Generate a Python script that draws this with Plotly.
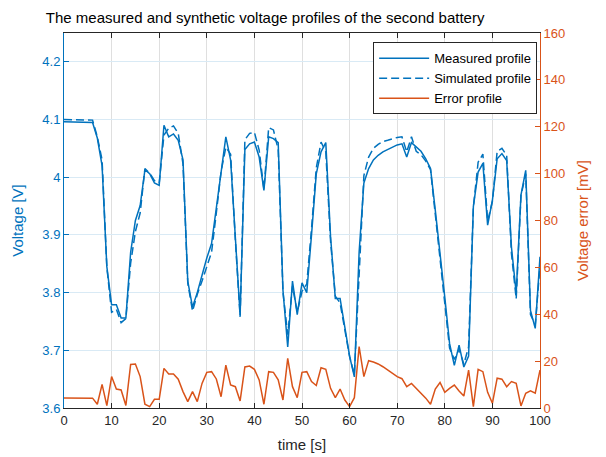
import plotly.graph_objects as go

# time axis, one sample per second
time_s = list(range(0, 101))

# measured terminal voltage [V]
measured_v = [
    4.096, 4.096, 4.095, 4.095, 4.095, 4.095, 4.095, 4.068, 4.020, 3.845,
    3.779, 3.779, 3.756, 3.756, 3.870, 3.925, 3.951, 4.013, 4.006, 3.990,
    3.986, 4.090, 4.070, 4.075, 4.064, 4.030, 3.820, 3.775, 3.800, 3.830,
    3.860, 3.885, 3.950, 4.015, 4.070, 4.030, 3.900, 3.761, 4.048, 4.058,
    4.061, 4.035, 3.977, 4.070, 4.067, 4.060, 3.804, 3.706, 3.820, 3.762,
    3.817, 3.800, 3.900, 4.006, 4.044, 4.060, 3.897, 3.790, 3.790, 3.740,
    3.690, 3.654, 3.870, 3.990, 4.015, 4.030, 4.038, 4.044, 4.048, 4.052,
    4.056, 4.058, 4.035, 4.060, 4.053, 4.045, 4.032, 4.015, 3.943, 3.873,
    3.792, 3.712, 3.674, 3.709, 3.671, 3.690, 3.949, 4.009, 4.024, 3.917,
    3.960, 4.032, 4.041, 4.029, 3.879, 3.799, 3.969, 4.012, 3.769, 3.738,
    3.862,
]

# simulated (synthetic) voltage [V]
simulated_v = [
    4.100, 4.100, 4.099, 4.099, 4.099, 4.099, 4.099, 4.070, 4.030, 3.844,
    3.766, 3.771, 3.748, 3.755, 3.851, 3.906, 3.938, 4.015, 4.007, 3.994,
    3.990, 4.073, 4.085, 4.089, 4.076, 4.023, 3.817, 3.768, 3.797, 3.820,
    3.845, 3.870, 3.938, 4.010, 4.052, 4.040, 3.891, 3.758, 4.065, 4.076,
    4.078, 4.047, 3.979, 4.086, 4.082, 4.048, 3.801, 3.727, 3.811, 3.766,
    3.802, 3.815, 3.911, 4.016, 4.061, 4.044, 3.889, 3.794, 3.782, 3.737,
    3.689, 3.658, 3.844, 4.003, 4.035, 4.050, 4.057, 4.062, 4.064, 4.067,
    4.069, 4.070, 4.044, 4.070, 4.045, 4.039, 4.028, 4.013, 3.935, 3.862,
    3.785, 3.704, 3.684, 3.702, 3.676, 3.706, 3.948, 4.026, 4.040, 3.924,
    3.958, 4.045, 4.050, 4.038, 3.868, 3.789, 3.968, 4.006, 3.762, 3.744,
    3.846,
]

# absolute error between the two profiles [mV]
error_mv = [
    4.3, 4.3, 4.2, 4.2, 4.3, 4.3, 4.2, 1.6, 10.1, 1.0,
    13.4, 8.1, 7.7, 1.1, 18.6, 18.8, 13.4, 1.6, 0.6, 3.7,
    3.7, 16.9, 14.5, 14.5, 12.3, 7.0, 2.7, 7.0, 2.7, 10.5,
    15.2, 15.5, 12.4, 4.8, 18.3, 9.8, 9.1, 3.0, 17.5, 17.9,
    16.5, 12.0, 1.6, 15.5, 15.2, 12.0, 3.4, 21.2, 9.1, 4.4,
    15.2, 15.5, 11.3, 9.6, 17.2, 16.5, 8.4, 4.4, 8.1, 3.4,
    0.6, 4.4, 26.2, 13.4, 20.2, 19.6, 18.8, 17.6, 16.3, 14.8,
    13.4, 12.5, 9.1, 10.5, 8.4, 6.3, 4.2, 1.6, 8.1, 10.9,
    6.7, 8.4, 9.8, 7.3, 5.1, 16.2, 0.6, 16.5, 15.5, 6.7,
    2.0, 12.7, 12.3, 9.1, 11.3, 10.5, 0.9, 6.3, 7.3, 6.3,
    16.2,
]

blue = "#0072BD"
orange = "#D95319"
dark = "#262626"
font = "Liberation Sans, Arial, sans-serif"

fig = go.Figure()
fig.add_trace(go.Scatter(x=time_s, y=measured_v, mode="lines",
                         name="Measured profile",
                         line=dict(color=blue, width=1.5)))
fig.add_trace(go.Scatter(x=time_s, y=simulated_v, mode="lines",
                         name="Simulated profile",
                         line=dict(color=blue, width=1.5, dash="8px,4px")))
fig.add_trace(go.Scatter(x=time_s, y=error_mv, mode="lines",
                         name="Error profile", yaxis="y2",
                         line=dict(color=orange, width=1.5)))

# the page body adds an 8 px margin, so the figure is 8 px smaller and the
# plot area lands at x 64..540, y 33..408 in the window
fig.update_layout(
    width=598, height=449,
    margin=dict(l=56, r=66, t=25, b=49, autoexpand=False),
    paper_bgcolor="white", plot_bgcolor="white",
    font=dict(family=font, size=13, color=dark),
    title=dict(text="The measured and synthetic voltage profiles of the second battery",
               x=0.43, xanchor="center", y=0.979, yanchor="middle",
               font=dict(size=15, color="black")),
    showlegend=True,
    legend=dict(x=0.994, y=0.975, xanchor="right", yanchor="top",
                bgcolor="white", bordercolor=dark, borderwidth=1,
                font=dict(size=13, color="black"),
                tracegroupgap=0, itemwidth=50),
    xaxis=dict(range=[0, 100], dtick=10, ticks="inside", ticklen=5,
               tickcolor=dark, showline=True, linecolor=dark, mirror="ticks",
               showgrid=True, gridcolor="#dfdfdf", zeroline=False,
               automargin=False,
               tickfont=dict(color=dark, size=13),
               title=dict(text="time [s]", font=dict(size=15, color=dark), standoff=12)),
    yaxis=dict(range=[3.6, 4.25], dtick=0.1, ticks="inside", ticklen=5,
               tickcolor=blue, showline=True, linecolor=blue,
               showgrid=True, gridcolor="#d9eaf5", zeroline=False,
               automargin=False,
               tickfont=dict(color=blue, size=13),
               title=dict(text="Voltage [V]", font=dict(size=15, color=blue), standoff=15)),
    yaxis2=dict(range=[0, 160], dtick=20, ticks="inside", ticklen=5,
                tickcolor=orange, showline=True, linecolor=orange,
                overlaying="y", side="right", showgrid=False, zeroline=False,
                automargin=False,
                tickfont=dict(color=orange, size=13),
                title=dict(text="Voltage error [mV]", font=dict(size=15, color=orange), standoff=13)),
)

fig.write_html("out.html")
